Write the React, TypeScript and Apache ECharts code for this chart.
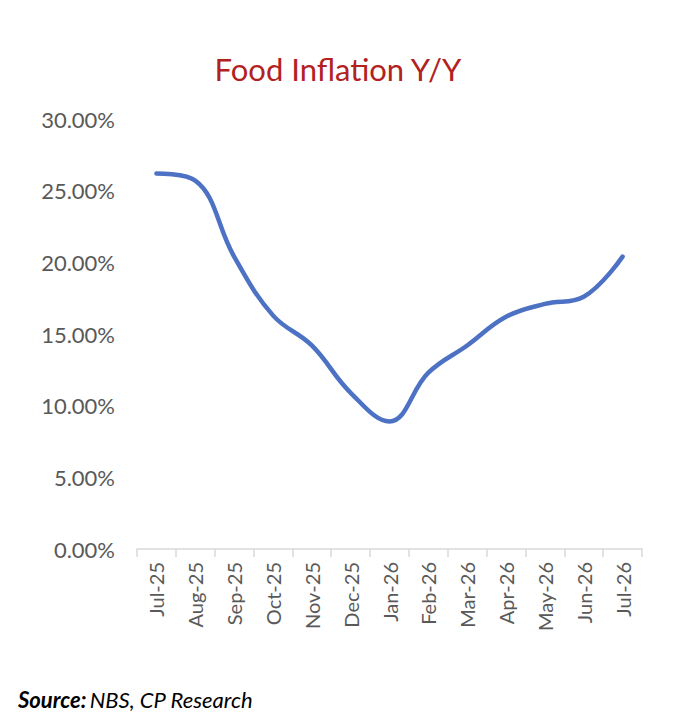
import React, { useEffect, useRef } from "react";
import * as echarts from "echarts";

const categories = ["Jul-25", "Aug-25", "Sep-25", "Oct-25", "Nov-25", "Dec-25", "Jan-26", "Feb-26", "Mar-26", "Apr-26", "May-26", "Jun-26", "Jul-26"];
const foodInflation = [26.2, 25.7, 20.4, 16.3, 14.2, 10.9, 8.9, 12.3, 14.2, 16.2, 17.1, 17.6, 20.4];
const yTicks = [0, 5, 10, 15, 20, 25, 30];

export default function App() {
  const ref = useRef<HTMLDivElement>(null);
  useEffect(() => {
    const chart = echarts.init(ref.current!, null, { renderer: "svg" });
    chart.setOption({
      animation: false,
      backgroundColor: "#ffffff",
      title: {
        text: "Food Inflation Y/Y",
        left: "center",
        top: 48,
        textStyle: { color: "#b3211f", fontSize: 31, fontWeight: "normal", fontFamily: "Lato" },
      },
      grid: { left: 137, right: 34, top: 119, bottom: 179 },
      xAxis: {
        type: "category",
        data: categories,
        boundaryGap: true,
        axisLine: { lineStyle: { color: "#d9d9d9", width: 1.5 } },
        axisTick: { show: true, alignWithLabel: false, length: 8, lineStyle: { color: "#d9d9d9", width: 1.5 } },
        axisLabel: { rotate: 90, color: "#595959", fontSize: 20, fontFamily: "Lato", margin: 13, interval: 0 },
      },
      yAxis: {
        type: "value",
        min: yTicks[0],
        max: yTicks[yTicks.length - 1],
        interval: 5,
        axisLine: { show: false },
        axisTick: { show: false },
        splitLine: { show: false },
        axisLabel: {
          color: "#595959",
          fontSize: 22,
          fontFamily: "Lato",
          margin: 22,
          formatter: (v: number) => v.toFixed(2) + "%",
        },
      },
      series: [
        {
          type: "line",
          data: foodInflation,
          smooth: 0.4,
          symbol: "none",
          lineStyle: { color: "#4d72c4", width: 4.5, cap: "round" },
        },
      ],
      graphic: [
        {
          type: "text",
          left: 18,
          top: 688,
          style: {
            text: "{b|Source:} {n|NBS, CP Research}",
            rich: {
              b: { fontWeight: "bold", fontStyle: "italic", fontSize: 22, fill: "#000", fontFamily: "Lato" },
              n: { fontStyle: "italic", fontSize: 22, fill: "#000", fontFamily: "Lato" },
            },
          },
        },
      ],
    });
    return () => chart.dispose();
  }, []);
  return <div ref={ref} style={{ width: 676, height: 728, position: "absolute", left: 0, top: 0 }} />;
}
